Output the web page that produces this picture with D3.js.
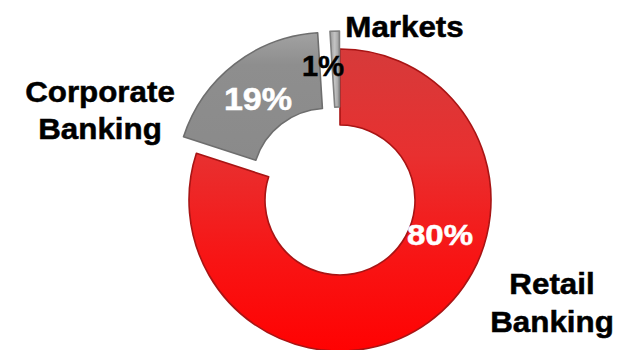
<!DOCTYPE html>
<html>
<head>
<meta charset="utf-8">
<script src="https://cdn.jsdelivr.net/npm/d3@7/dist/d3.min.js"></script>
<style>
  html, body { margin: 0; padding: 0; background: #ffffff; }
  svg { display: block; }
  text { font-family: "Liberation Sans", Arial, Helvetica, sans-serif; font-weight: bold; }
</style>
</head>
<body>
<svg id="chart" width="619" height="350"></svg>
<script>
// Revenue split by business line
const categories = ["Retail Banking", "Corporate Banking", "Markets"];
const shares = [80, 19, 1];
const nameLines = [["Retail", "Banking"], ["Corporate", "Banking"], ["Markets"]];
const valueLabels = ["80%", "19%", "1%"];

const svg = d3.select("#chart");
const cx = 340, cy = 200;
const rOuter = 151, rInner = 75;
const explode = [0, 21, 18];

// gradients (red one in the ring's local coordinates)
const defs = svg.append("defs");
const red = defs.append("linearGradient").attr("id", "gRed")
  .attr("gradientUnits", "userSpaceOnUse")
  .attr("x1", 0).attr("y1", -rOuter).attr("x2", 0).attr("y2", rOuter);
red.append("stop").attr("offset", "0%").attr("stop-color", "#d63a3a");
red.append("stop").attr("offset", "35%").attr("stop-color", "#e83030");
red.append("stop").attr("offset", "70%").attr("stop-color", "#f81414");
red.append("stop").attr("offset", "100%").attr("stop-color", "#ff0202");

const grey = defs.append("linearGradient").attr("id", "gGrey")
  .attr("x1", 0).attr("y1", 0).attr("x2", 0).attr("y2", 1);
grey.append("stop").attr("offset", "0%").attr("stop-color", "#a2a2a2");
grey.append("stop").attr("offset", "25%").attr("stop-color", "#8e8e8e");
grey.append("stop").attr("offset", "100%").attr("stop-color", "#8a8a8a");

const light = defs.append("linearGradient").attr("id", "gLight")
  .attr("x1", 0).attr("y1", 0).attr("x2", 1).attr("y2", 0);
light.append("stop").attr("offset", "0%").attr("stop-color", "#9a9a9a");
light.append("stop").attr("offset", "50%").attr("stop-color", "#c4c4c4");
light.append("stop").attr("offset", "100%").attr("stop-color", "#9a9a9a");

const fills = ["url(#gRed)", "url(#gGrey)", "url(#gLight)"];
const strokes = ["#a81414", "#6e6e6e", "#808080"];

const pie = d3.pie().sort(null).value(d => d);
const arcs = pie(shares);
const arc = d3.arc().innerRadius(rInner).outerRadius(rOuter);

const g = svg.append("g").attr("transform", `translate(${cx},${cy})`);
g.selectAll("path.slice")
  .data(arcs)
  .join("path")
  .attr("class", "slice")
  .attr("transform", (d, i) => {
    const mid = (d.startAngle + d.endAngle) / 2;
    return `translate(${Math.sin(mid) * explode[i]},${-Math.cos(mid) * explode[i]})`;
  })
  .attr("d", arc)
  .attr("fill", (d, i) => fills[i])
  .attr("stroke", (d, i) => strokes[i])
  .attr("stroke-width", 1.6)
  .attr("stroke-linejoin", "round");

// text helper with slight horizontal stretch
function label(x, y, txt, size, color, sx) {
  svg.append("text")
    .attr("transform", `translate(${x},${y}) scale(${sx},1)`)
    .attr("text-anchor", "middle")
    .attr("font-size", size)
    .attr("fill", color)
    .attr("stroke", color)
    .attr("stroke-width", 0.5)
    .text(txt);
}

// value labels
label(440, 245, valueLabels[0], 30, "#ffffff", 1.1);
label(258, 110, valueLabels[1], 31, "#ffffff", 1.1);
label(323, 76, valueLabels[2], 29, "#000000", 1.0);

// category labels
const namePos = [
  { x: 552, y: [294, 332] },
  { x: 100, y: [102, 139] },
  { x: 404.5, y: [37] }
];
nameLines.forEach((lines, i) => {
  lines.forEach((ln, j) => label(namePos[i].x, namePos[i].y[j], ln, 29, "#000000", 1.08));
});
</script>
</body>
</html>
